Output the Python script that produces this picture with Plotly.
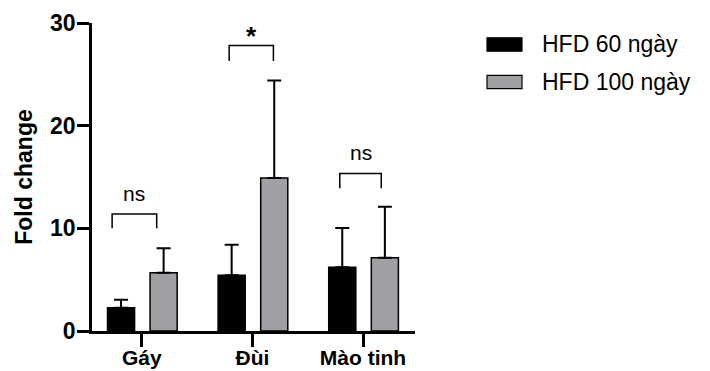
import plotly.graph_objects as go

categories = ["Gáy", "Đùi", "Mào tinh"]
series_names = ["HFD 60 ngày", "HFD 100 ngày"]
hfd60_mean = [2.27, 5.42, 6.2]
hfd60_sd = [0.78, 2.98, 3.83]
hfd100_mean = [5.68, 14.9, 7.14]
hfd100_sd = [2.37, 9.5, 4.96]
sig_labels = ["ns", "*", "ns"]
ytick_vals = [0, 10, 20, 30]

FONT = "Arial, Liberation Sans, sans-serif"
GRAY = "#a0a0a4"

OFF = 8  # page body margin
W, H = 710 - OFF, 371 - OFF
L, R, T, B = 92 - OFF, 415 - OFF, 23 - OFF, 331 - OFF  # plot area in figure pixels


def px(x):
    return (x - OFF - L) / (R - L)


def py(y):
    return (B - (y - OFF)) / (B - T)


fig = go.Figure()
xi = list(range(len(categories)))
fig.add_trace(go.Bar(
    x=xi, y=hfd60_mean, name=series_names[0], width=0.245, offset=-0.31,
    marker=dict(color="black", line=dict(color="black", width=1.5)),
    error_y=dict(type="data", array=hfd60_sd, arrayminus=[0] * 3, symmetric=False,
                 color="black", thickness=2, width=7),
    showlegend=False,
))
fig.add_trace(go.Bar(
    x=xi, y=hfd100_mean, name=series_names[1], width=0.245, offset=0.075,
    marker=dict(color=GRAY, line=dict(color="black", width=1.5)),
    error_y=dict(type="data", array=hfd100_sd, arrayminus=[0] * 3, symmetric=False,
                 color="black", thickness=2, width=7),
    showlegend=False,
))

shapes = []
annotations = []
# significance brackets: (left, right offsets from category, top y, leg y, label y)
brackets = [(-0.268, 0.135, 11.4, 10.0, 12.1),
            (-0.21, 0.19, 27.8, 26.3, 27.1),
            (-0.21, 0.165, 15.35, 13.9, 16.05)]
for i, (lo, hi, top, leg, ly) in enumerate(brackets):
    x0, x1 = i + lo, i + hi
    shapes.append(dict(type="path", xref="x", yref="y",
                       path=f"M {x0},{leg} L {x0},{top} L {x1},{top} L {x1},{leg}",
                       line=dict(color="black", width=1.5)))
    lab = sig_labels[i]
    annotations.append(dict(x=(x0 + x1) / 2, y=ly, xref="x", yref="y", text=lab,
                            showarrow=False, yanchor="bottom",
                            font=dict(family=FONT, size=26 if lab == "*" else 21,
                                      color="black", weight="bold" if lab == "*" else "normal"),
                            ))

# manual legend (reference page pixels)
rows = [(44.5, "black"), (82, GRAY)]
for (cy, col), name in zip(rows, series_names):
    shapes.append(dict(type="rect", xref="paper", yref="paper",
                       x0=px(487), x1=px(522), y0=py(cy + 6.7), y1=py(cy - 6.7),
                       fillcolor=col, line=dict(color="black", width=1.2)))
    annotations.append(dict(x=px(540), y=py(cy), xref="paper", yref="paper", text=name,
                            showarrow=False, xanchor="left", yanchor="middle",
                            font=dict(family=FONT, size=23, color="black")))

fig.update_layout(
    width=W, height=H,
    margin=dict(l=L, r=W - R, t=T, b=H - B, pad=0),
    plot_bgcolor="white", paper_bgcolor="white",
    barmode="overlay",
    shapes=shapes, annotations=annotations,
    xaxis=dict(range=[-0.45, 2.47], tickmode="array", tickvals=xi, ticktext=categories,
               automargin=False,
               showline=True, linecolor="black", linewidth=2.5,
               ticks="outside", ticklen=13, tickwidth=2.5, tickcolor="black",
               ticklabelstandoff=-7,
               showgrid=False, zeroline=False,
               tickfont=dict(family=FONT, size=21, color="black", weight="bold")),
    yaxis=dict(range=[0, 30], tickvals=ytick_vals, automargin=False,
               showline=True, linecolor="black", linewidth=2.5,
               ticks="outside", ticklen=12, tickwidth=2.5, tickcolor="black",
               ticklabelstandoff=-3,
               showgrid=False, zeroline=False,
               tickfont=dict(family=FONT, size=23, color="black", weight="bold"),
               title=dict(text="Fold change", standoff=12,
                          font=dict(family=FONT, size=23, color="black", weight="bold"))),
)

fig.write_html("out.html")
